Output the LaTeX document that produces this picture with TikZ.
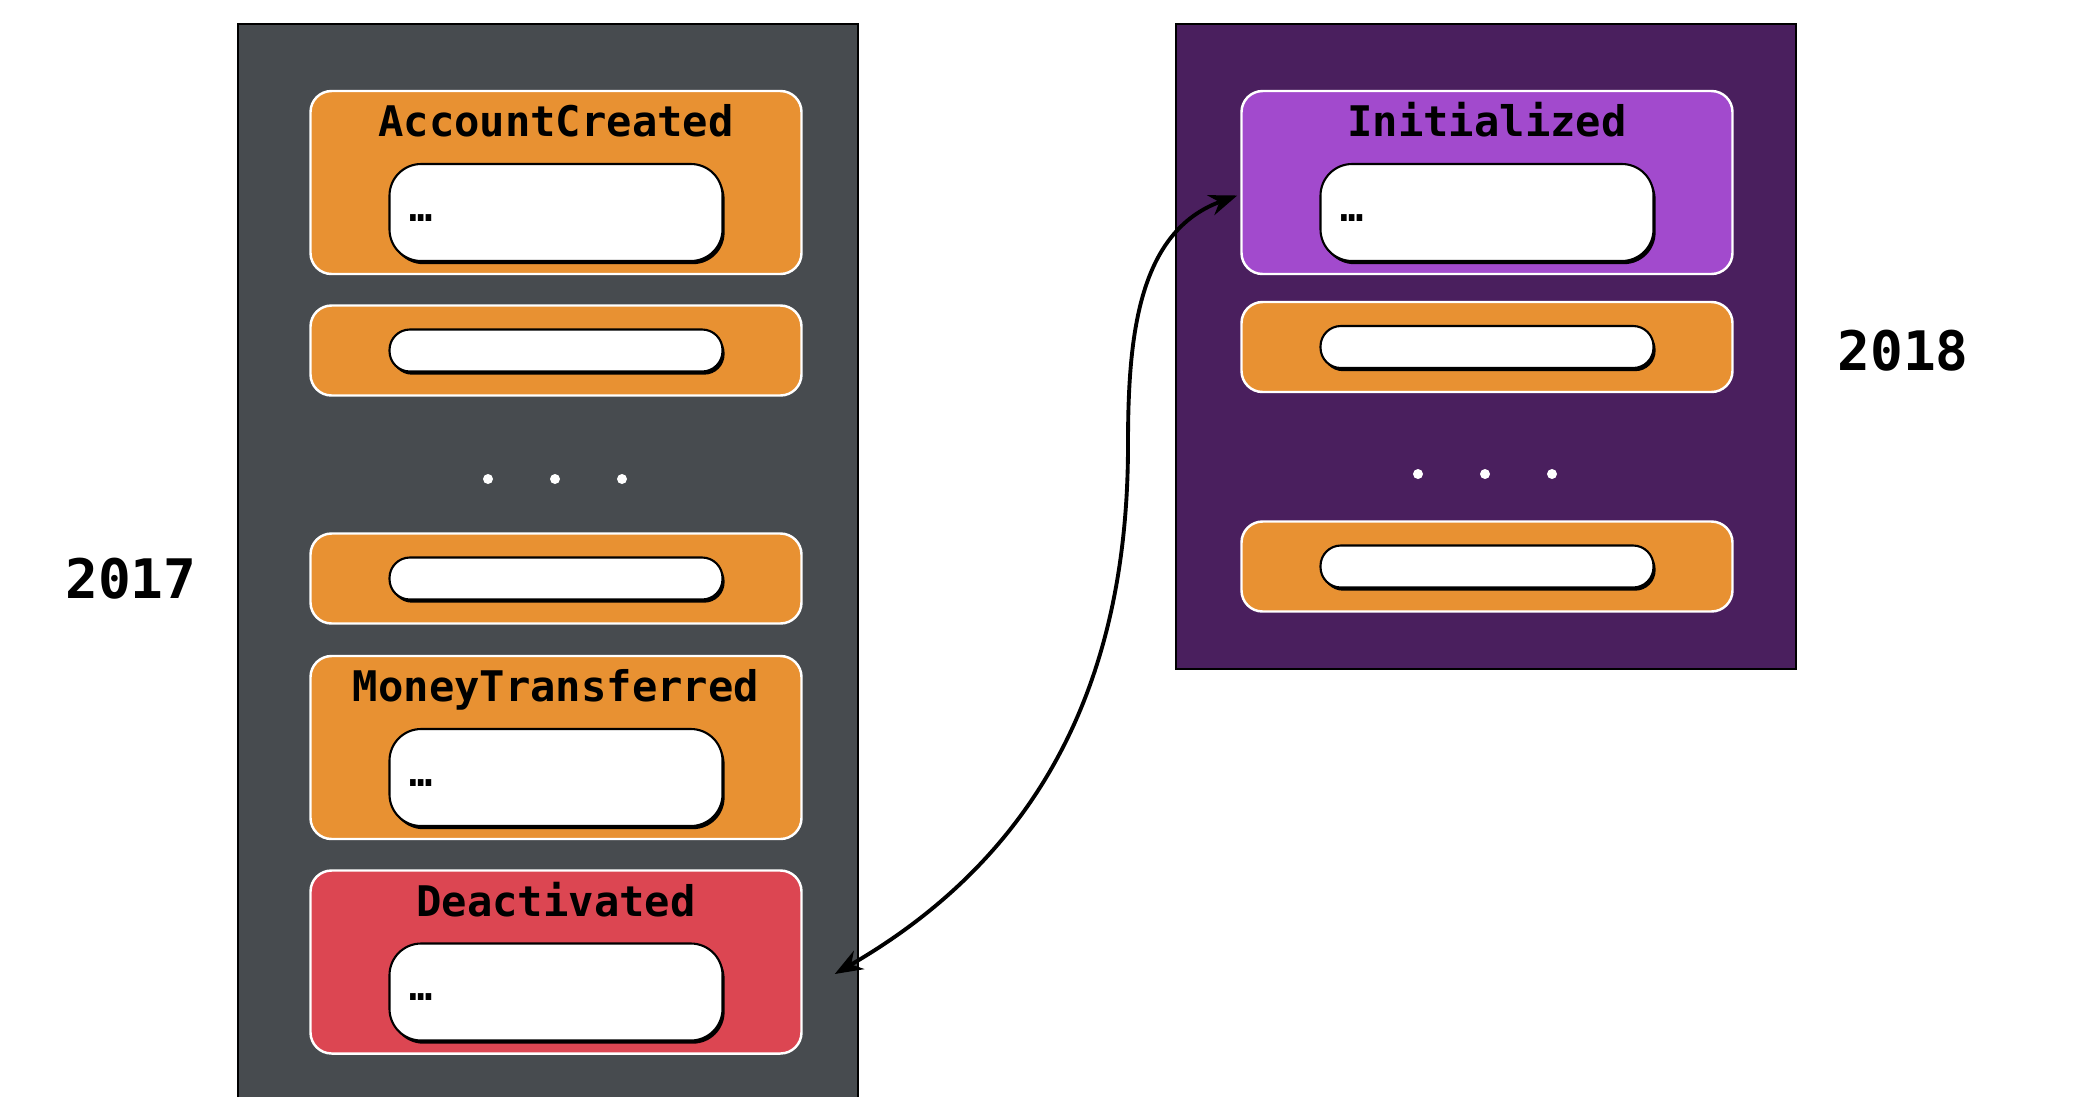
\documentclass[tikz,border=0pt]{standalone}
\usepackage{fontspec}
\setmonofont{DejaVu Sans Mono}
\usetikzlibrary{
    arrows.meta,
    calc,
    positioning,
    shadows
}
\definecolor{slate}{RGB}{71,75,79}
\definecolor{plum}{RGB}{74,31,94}
\definecolor{eventorange}{RGB}{232,145,50}
\definecolor{eventviolet}{RGB}{162,74,205}
\definecolor{eventred}{RGB}{220,70,82}
\tikzset{
    line cap=round,
    line join=round,
    stream/.style={
        draw=black,
        line width=0.6pt
    },
    event/.style={
        rectangle,
        rounded corners=6pt,
        draw=white,
        line width=0.7pt,
        minimum width=4.91cm,
        inner sep=0pt
    },
    big event/.style={event, minimum height=1.83cm},
    small event/.style={event, minimum height=0.9cm},
    payload/.style={
        rectangle,
        rounded corners=9pt,
        fill=white,
        draw=black,
        line width=0.6pt,
        minimum height=0.97cm,
        text width=2.93cm,
        inner xsep=0.2cm,
        inner ysep=0pt,
        align=left,
        font=\ttfamily\bfseries\fontsize{11}{12}\selectfont,
        drop shadow={shadow xshift=0.6pt, shadow yshift=-0.9pt, opacity=1, fill=black}
    },
    slim payload/.style={payload, rounded corners=5.8pt, minimum height=0.42cm},
    eventname/.style={
        font=\ttfamily\bfseries\fontsize{12}{14}\selectfont,
        text=black,
        inner sep=0pt,
        anchor=base
    },
    year/.style={
        font=\ttfamily\bfseries\fontsize{15.5}{18}\selectfont,
        text=black
    },
    gapdot/.style={
        circle,
        fill=white,
        inner sep=0pt,
        minimum size=0.1cm
    },
    upcast/.style={
        <->,
        >={Stealth[length=8pt, width=6pt]},
        draw=black,
        line width=1.1pt
    }
}
\newcommand{\datadots}{\raisebox{-2.5pt}[0pt][0pt]{…}}

\begin{document}
\begin{tikzpicture}
\fill[white] (0,0) rectangle (20.98,-10.96);
\clip (0,0) rectangle (20.98,-10.96);

% Stream 2017
\draw[stream, fill=slate] (2.38,-0.24) rectangle (8.58,-11.2);
\node[year] (y2017) at (1.31,-5.79) {2017};

\node[big event, fill=eventorange] (acc) at (5.56,-1.825) {};
\node[eventname] (acc-name) at ($(acc.north)+(0,-0.47)$) {AccountCreated};
\node[payload] (acc-data) at ($(acc.center)+(0,-0.3)$) {\datadots};

\node[small event, fill=eventorange] (l2) at (5.56,-3.505) {};
\node[slim payload] (l2-data) at (l2.center) {};

\foreach \x [count=\i] in {4.88,5.55,6.22}
    \node[gapdot] (ldot\i) at (\x,-4.79) {};

\node[small event, fill=eventorange] (l3) at (5.56,-5.785) {};
\node[slim payload] (l3-data) at (l3.center) {};

\node[big event, fill=eventorange] (money) at (5.56,-7.475) {};
\node[eventname] (money-name) at ($(money.north)+(0,-0.47)$) {MoneyTransferred};
\node[payload] (money-data) at ($(money.center)+(0,-0.3)$) {\datadots};

\node[big event, fill=eventred] (deact) at (5.56,-9.62) {};
\node[eventname] (deact-name) at ($(deact.north)+(0,-0.47)$) {Deactivated};
\node[payload] (deact-data) at ($(deact.center)+(0,-0.3)$) {\datadots};

% Stream 2018
\draw[stream, fill=plum] (11.76,-0.24) rectangle (17.96,-6.69);
\node[year] (y2018) at (19.03,-3.51) {2018};

\node[big event, fill=eventviolet] (init) at (14.87,-1.825) {};
\node[eventname] (init-name) at ($(init.north)+(0,-0.47)$) {Initialized};
\node[payload] (init-data) at ($(init.center)+(0,-0.3)$) {\datadots};

\node[small event, fill=eventorange] (r2) at (14.87,-3.47) {};
\node[slim payload] (r2-data) at (r2.center) {};

\foreach \x [count=\i] in {14.18,14.85,15.52}
    \node[gapdot] (rdot\i) at (\x,-4.74) {};

\node[small event, fill=eventorange] (r3) at (14.87,-5.665) {};
\node[slim payload] (r3-data) at (r3.center) {};

% Upcast link
\coordinate (deact-end) at ($(deact.east)+(0.32,-0.12)$);
\coordinate (init-end) at ($(init.west)+(-0.03,-0.13)$);
\coordinate (upcast-mid) at (11.28,-4.45);
\draw[upcast] (deact-end) to[out=30, in=-90] (upcast-mid) to[out=90, in=200] (init-end);
\end{tikzpicture}
\end{document}
